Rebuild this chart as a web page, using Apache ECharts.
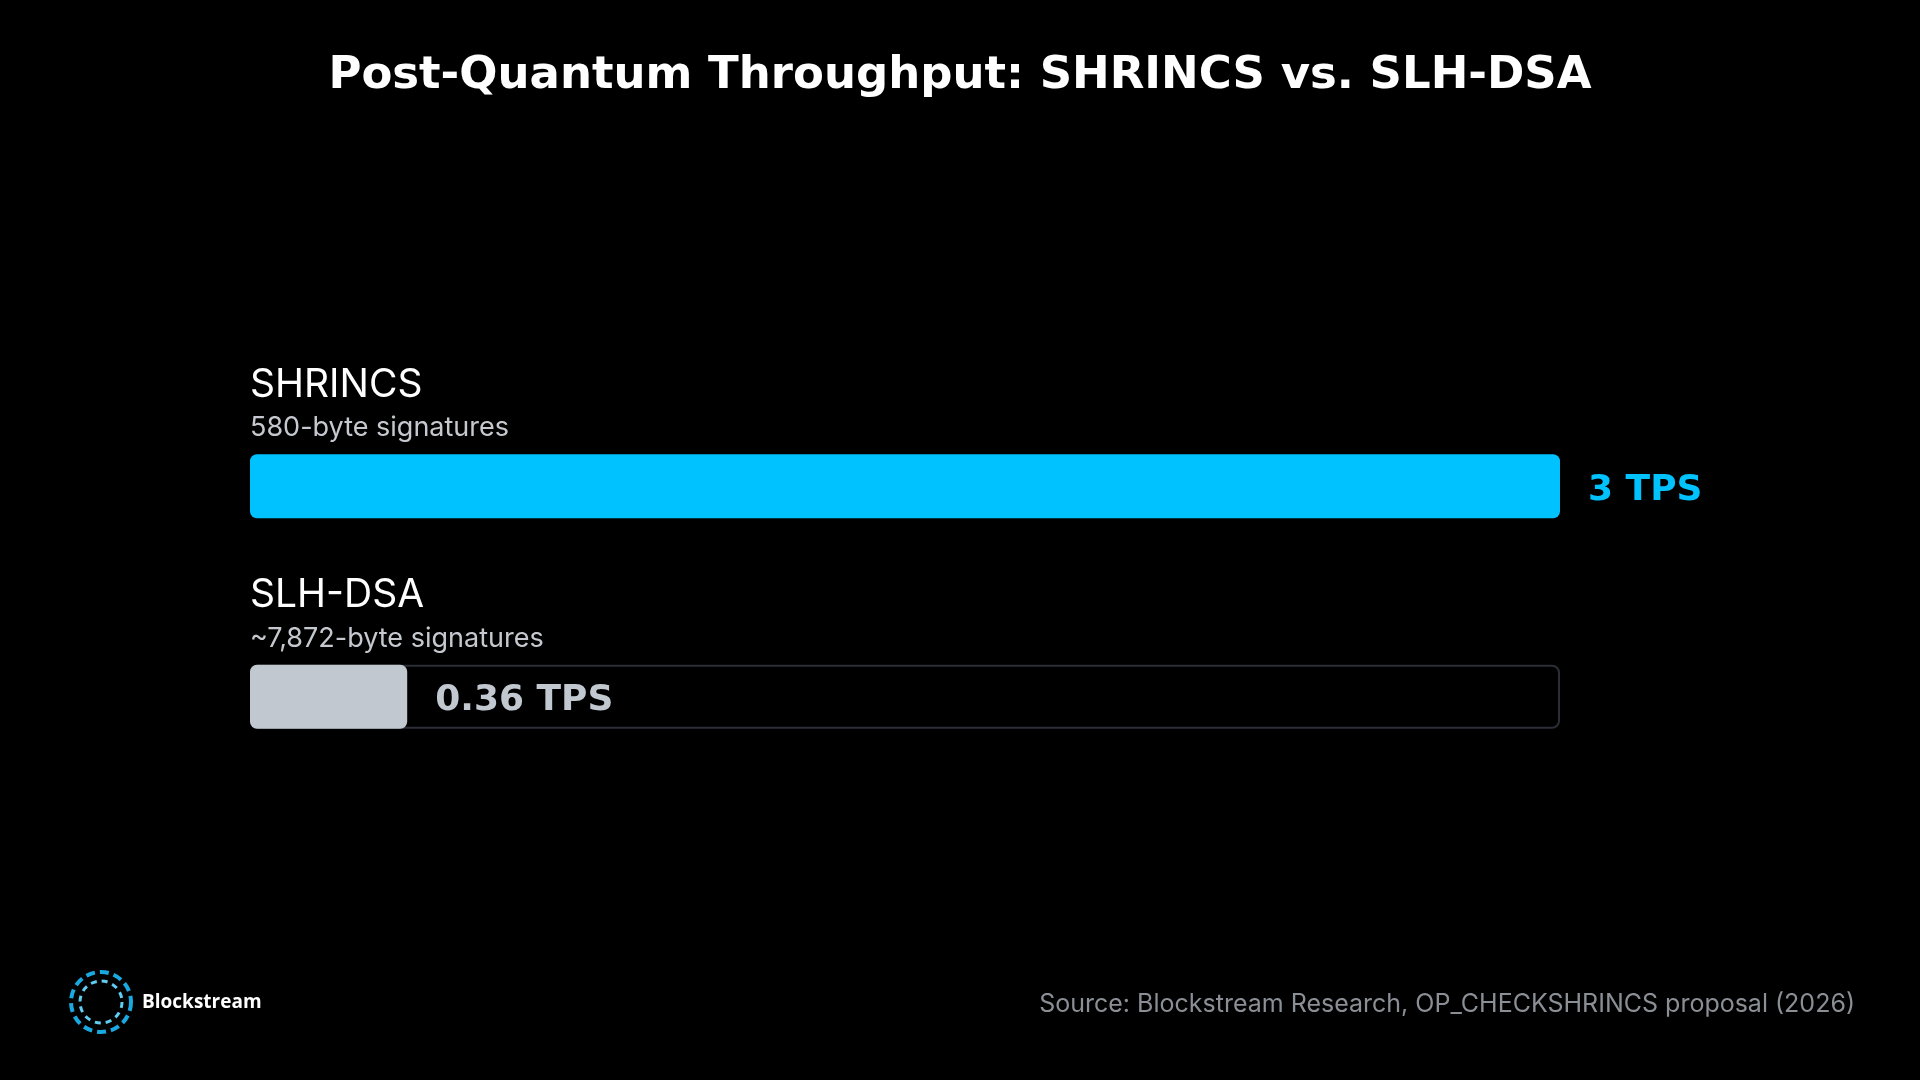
<!DOCTYPE html>
<html>
<head>
<meta charset="utf-8">
<script src="https://cdn.jsdelivr.net/npm/echarts@6/dist/echarts.min.js"></script>
<style>
  html, body { margin: 0; padding: 0; background: #000; }
  #chart { width: 1920px; height: 1080px; }
</style>
</head>
<body>
<div id="chart"></div>
<script>
// data
const schemes = ["SHRINCS", "SLH-DSA"];
const sigSizes = ["580-byte signatures", "~7,872-byte signatures"];
const tps = [3, 0.36];
const tpsLabels = ["3 TPS", "0.36 TPS"];
const maxTps = 3;

const cyan = "#00c2ff";
const grey = "#c2c8d0";

const chart = echarts.init(document.getElementById("chart"));

const option = {
  backgroundColor: "#000",
  animation: false,
  title: {
    text: "Post-Quantum Throughput: SHRINCS vs. SLH-DSA",
    left: "center",
    top: 49,
    textStyle: {
      color: "#fff",
      fontFamily: "DejaVu Sans",
      fontWeight: "bold",
      fontSize: 45,
    },
  },
  grid: {
    left: 250,
    right: 360,
    top: 381,
    bottom: 278,
    containLabel: false,
  },
  xAxis: {
    type: "value",
    min: 0,
    max: maxTps,
    show: false,
  },
  yAxis: {
    type: "category",
    data: schemes,
    inverse: true,
    axisLine: { show: false },
    axisTick: { show: false },
    axisLabel: {
      inside: true,
      margin: 0,
      align: "left",
      verticalAlign: "bottom",
      padding: [0, 0, 40, 0],
      formatter: (v, i) => `{name|${v}}\n{sub|${sigSizes[i]}}`,
      rich: {
        name: { color: "#fff", fontFamily: "Inter", fontSize: 39, lineHeight: 50 },
        sub: { color: "#c5c9cf", fontFamily: "Inter", fontSize: 27, lineHeight: 36 },
      },
    },
  },
  series: [
    {
      // track behind the bars
      type: "bar",
      data: ["-", maxTps],
      barWidth: 64,
      barGap: "-100%",
      silent: true,
      z: 1,
      itemStyle: {
        color: "rgba(0,0,0,0)",
        borderColor: "#2b2e36",
        borderWidth: 2,
        borderRadius: 7,
      },
    },
    {
      type: "bar",
      barWidth: 64,
      z: 2,
      data: tps.map((v, i) => ({
        value: v,
        itemStyle: { color: i === 0 ? cyan : grey },
        label: { color: i === 0 ? cyan : grey },
      })),
      itemStyle: { borderRadius: 7 },
      label: {
        show: true,
        position: "right",
        distance: 28,
        offset: [0, 4],
        formatter: (p) => tpsLabels[p.dataIndex],
        fontFamily: "DejaVu Sans",
        fontWeight: "bold",
        fontSize: 36,
      },
    },
  ],
  graphic: [
    {
      type: "circle",
      shape: { cx: 101, cy: 1002, r: 30 },
      style: { fill: "none", stroke: "#1aa8e0", lineWidth: 4, lineDash: [9, 5] },
    },
    {
      type: "circle",
      shape: { cx: 101, cy: 1002, r: 21 },
      style: { fill: "none", stroke: "#5fcdf0", lineWidth: 3, lineDash: [6, 5] },
    },
    {
      type: "text",
      left: 142,
      top: 993,
      style: {
        text: "Blockstream",
        fill: "#fff",
        font: "bold 19px 'Open Sans'",
      },
    },
    {
      type: "text",
      right: 65,
      top: 992,
      style: {
        text: "Source: Blockstream Research, OP_CHECKSHRINCS proposal (2026)",
        fill: "#8a8f96",
        font: "25px Inter",
      },
    },
  ],
};

chart.setOption(option);
</script>
</body>
</html>
